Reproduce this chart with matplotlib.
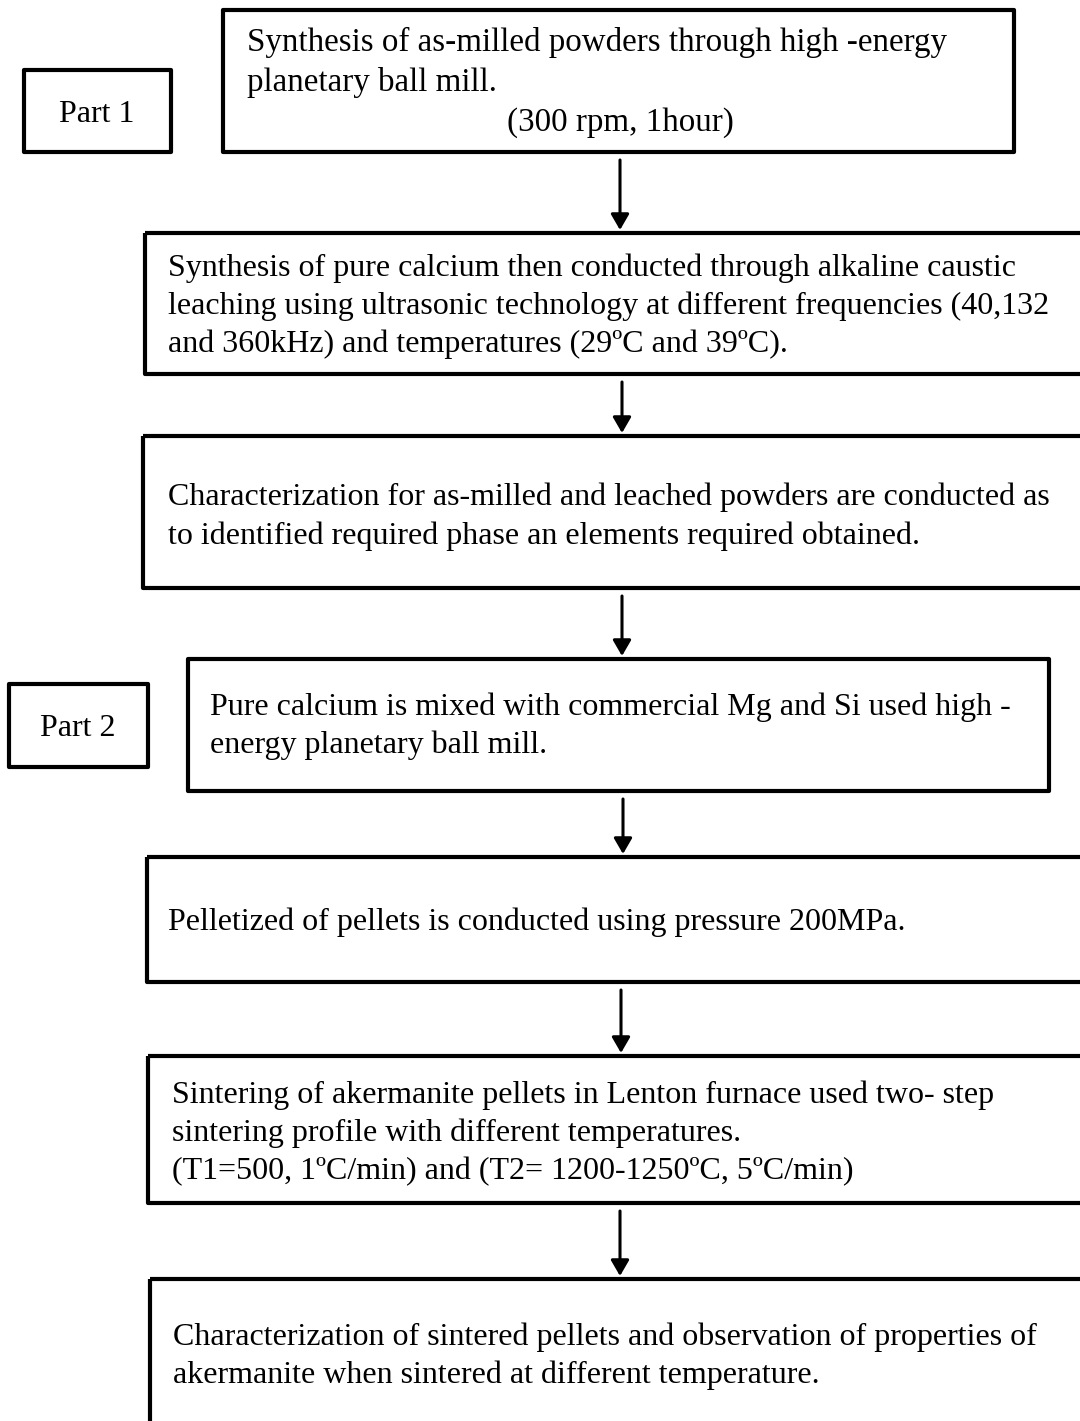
import matplotlib
matplotlib.use("Agg")
import matplotlib.pyplot as plt
from matplotlib.patches import Rectangle

# step texts (one list entry per line of text in each box)
step_lines = [
    ["Synthesis of as-milled powders through high -energy",
     "planetary ball mill.",
     "(300 rpm, 1hour)"],
    ["Synthesis of pure calcium then conducted through alkaline caustic",
     "leaching using ultrasonic technology at different frequencies (40,132",
     "and 360kHz) and temperatures (29ºC and 39ºC)."],
    ["Characterization for as-milled and leached powders are conducted as",
     "to identified required phase an elements required obtained."],
    ["Pure calcium is mixed with commercial Mg and Si used high -",
     "energy planetary ball mill."],
    ["Pelletized of pellets is conducted using pressure 200MPa."],
    ["Sintering of akermanite pellets in Lenton furnace used two- step",
     "sintering profile with different temperatures.",
     "(T1=500, 1ºC/min) and (T2= 1200-1250ºC, 5ºC/min)"],
    ["Characterization of sintered pellets and observation of properties of",
     "akermanite when sintered at different temperature."],
]
part_labels = ["Part 1", "Part 2"]

# layout in pixels (x0, y0, x1, y1), y measured from the top
W, H = 1080, 1421
step_box = [(223, 10, 1014, 152), (145, 233, 1100, 374), (143, 436, 1100, 588),
            (188, 659, 1049, 791), (147, 857, 1100, 982), (148, 1056, 1100, 1203),
            (150, 1279, 1100, 1460)]
step_text_x = [247, 168, 168, 210, 168, 172, 173]
step_text_y = [[42, 82, 123], [268, 306, 344], [497, 536], [707, 745], [922],
               [1095, 1133, 1172], [1337, 1375]]
step_fs = [23.8, 23, 23, 23, 23, 23, 23]
part_box = [(24, 70, 171, 152), (9, 684, 148, 767)]
part_text_xy = [(97, 115), (78, 728)]
arrow_x = [620, 622, 622, 623, 621, 620]

FONT = "Liberation Serif"
FS = 23
LW_BOX = 3.0

fig = plt.figure(figsize=(W / 100, H / 100), dpi=100)
ax = fig.add_axes([0, 0, 1, 1])
ax.set_xlim(0, W)
ax.set_ylim(H, 0)
ax.axis("off")

for i, lines in enumerate(step_lines):
    x0, y0, x1, y1 = step_box[i]
    ax.add_patch(Rectangle((x0, y0), x1 - x0, y1 - y0, fill=False,
                           edgecolor="black", lw=LW_BOX, joinstyle="round"))
    for j, line in enumerate(lines):
        if i == 0 and j == 2:
            # the third line of the first box is centred
            ax.text(620, step_text_y[i][j], line, ha="center", va="center",
                    fontsize=step_fs[i], family=FONT)
        else:
            ax.text(step_text_x[i], step_text_y[i][j], line, ha="left",
                    va="center", fontsize=step_fs[i], family=FONT)

for k, lab in enumerate(part_labels):
    x0, y0, x1, y1 = part_box[k]
    ax.add_patch(Rectangle((x0, y0), x1 - x0, y1 - y0, fill=False,
                           edgecolor="black", lw=LW_BOX, joinstyle="round"))
    ax.text(part_text_xy[k][0], part_text_xy[k][1], lab, ha="center",
            va="center", fontsize=FS, family=FONT)

# arrows between consecutive steps
for i in range(len(step_box) - 1):
    ystart = step_box[i][3] + 8
    yend = step_box[i + 1][1] - 3
    ax.annotate("", xy=(arrow_x[i], yend), xytext=(arrow_x[i], ystart),
                arrowprops=dict(arrowstyle="-|>,head_length=0.95,head_width=0.55",
                                mutation_scale=10, lw=2.2, color="black",
                                shrinkA=0, shrinkB=0))

fig.savefig("out.png", dpi=100, facecolor="white")
